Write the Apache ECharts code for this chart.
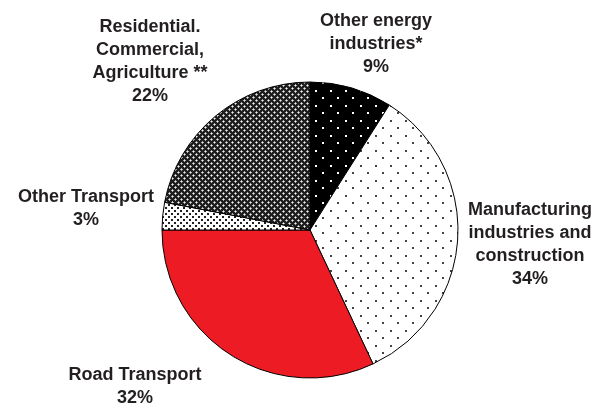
<!DOCTYPE html>
<html>
<head>
<meta charset="utf-8">
<script src="https://cdn.jsdelivr.net/npm/echarts@6/dist/echarts.min.js"></script>
<style>
  html, body { margin: 0; padding: 0; background: #ffffff; }
  #pie { width: 597px; height: 405px; }
</style>
</head>
<body>
<div id="pie"></div>
<script>
// 扇区名称与占比（%）
const sectors = [
  'Other energy\nindustries*',
  'Manufacturing\nindustries and\nconstruction',
  'Road Transport',
  'Other Transport',
  'Residential.\nCommercial,\nAgriculture **'
];
const shares = [9, 34, 32, 3, 22];

// 标签位置（布局用）
const labelPos = [[376, 44], [530, 245], [135, 387], [86, 209], [150, 62]];

// 网点填充图案
function dots(bg, fg, w, h, pts, r) {
  const c = document.createElement('canvas');
  c.width = w; c.height = h;
  const ctx = c.getContext('2d');
  ctx.fillStyle = bg;
  ctx.fillRect(0, 0, w, h);
  ctx.fillStyle = fg;
  pts.forEach(p => ctx.fillRect(p[0], p[1], r, r));
  return c;
}

function hatch() {
  const c = document.createElement('canvas');
  c.width = 6; c.height = 6;
  const ctx = c.getContext('2d');
  ctx.fillStyle = '#1e1e1e';
  ctx.fillRect(0, 0, 6, 6);
  ctx.fillStyle = '#a8a8a8';
  [[1, 0], [0, 1], [2, 1], [1, 2], [4, 3], [3, 4], [5, 4], [4, 5]].forEach(p => ctx.fillRect(p[0], p[1], 1, 1));
  ctx.fillStyle = '#f0f0f0';
  ctx.fillRect(1, 1, 1, 1);
  ctx.fillRect(4, 4, 1, 1);
  return c;
}

const fills = [
  { image: dots('#000000', '#ffffff', 15, 15, [[0, 0], [7, 7]], 2), repeat: 'repeat' },
  { image: dots('#ffffff', '#444444', 15, 15, [[0, 0], [7, 7]], 2), repeat: 'repeat' },
  '#ed1c24',
  { image: dots('#ffffff', '#222222', 6, 6, [[0, 0], [3, 3]], 2), repeat: 'repeat' },
  { image: hatch(), repeat: 'repeat' }
];

const chart = echarts.init(document.getElementById('pie'));
chart.setOption({
  animation: false,
  series: [
    {
      type: 'pie',
      center: [310, 230],
      radius: 148,
      startAngle: 90,
      clockwise: true,
      data: sectors.map((name, i) => ({
        name: name,
        value: shares[i],
        itemStyle: { color: fills[i] }
      })),
      itemStyle: { borderColor: '#000000', borderWidth: 1 },
      label: {
        show: true,
        position: 'outside',
        formatter: '{b}\n{d}%',
        fontFamily: 'Liberation Sans, Arial, sans-serif',
        fontWeight: 'bold',
        fontSize: 18,
        lineHeight: 23,
        color: '#231f20',
        align: 'center',
        overflow: 'none'
      },
      labelLine: { show: false },
      labelLayout: function (params) {
        const p = labelPos[params.dataIndex];
        return { x: p[0], y: p[1], align: 'center', verticalAlign: 'middle' };
      },
      emphasis: { disabled: true }
    }
  ]
});
</script>
</body>
</html>
